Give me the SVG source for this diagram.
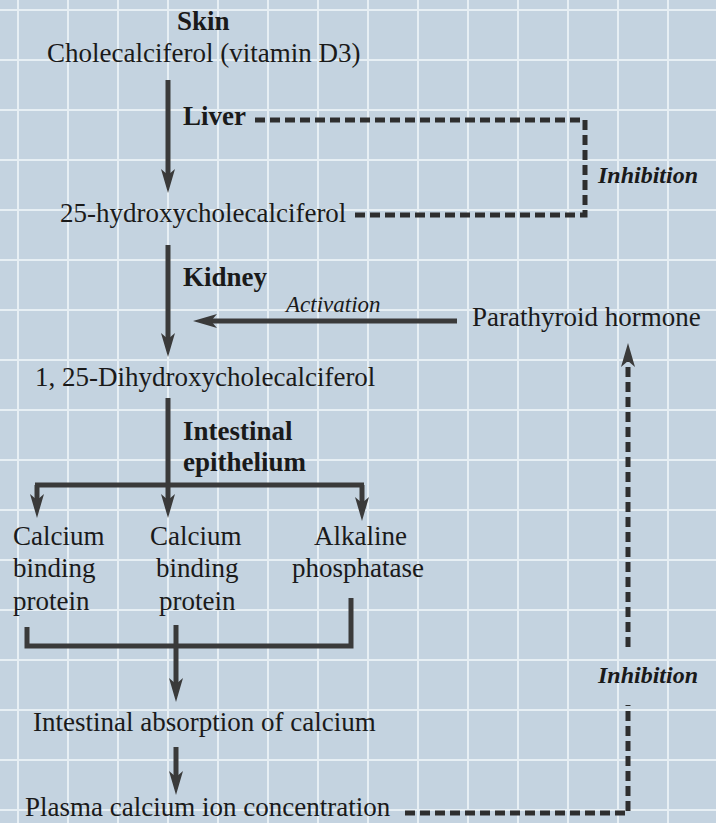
<svg xmlns="http://www.w3.org/2000/svg" width="716" height="823" viewBox="0 0 716 823">
<defs>
<style>
.bg{fill:#c4d3e0}
.grid{stroke:#eef4f8;stroke-width:2;opacity:0.85}
.t{font-family:"Liberation Serif","Times New Roman",serif;font-size:27px;fill:#1a1a1a}
.b{font-weight:bold}
.i{font-style:italic}
.lab{font-family:"Liberation Serif","Times New Roman",serif;font-size:24px;font-weight:bold;font-style:italic;fill:#1a1a1a}
.act{font-family:"Liberation Serif","Times New Roman",serif;font-size:23px;font-style:italic;fill:#1a1a1a}
.solid{fill:none;stroke:#3a3a3a;stroke-width:5}
.dash{fill:none;stroke:#2e2e2e;stroke-width:5;stroke-dasharray:10 5}
</style>
<marker id="ah" viewBox="0 0 24 14" refX="14" refY="7" markerWidth="24" markerHeight="14" markerUnits="userSpaceOnUse" orient="auto">
<path d="M0,0 L24,7 L0,14 L6,7 Z" fill="#3a3a3a"/>
</marker>
</defs>
<rect class="bg" x="0" y="0" width="716" height="823"/>
<g id="grid" class="grid">
<path d="M18,0V823M68,0V823M118,0V823M168,0V823M218,0V823M268,0V823M318,0V823M368,0V823M418,0V823M468,0V823M518,0V823M568,0V823M618,0V823M668,0V823"/>
<path d="M0,10H716M0,60H716M0,110H716M0,160H716M0,210H716M0,260H716M0,310H716M0,360H716M0,410H716M0,460H716M0,510H716M0,560H716M0,610H716M0,660H716M0,710H716M0,760H716M0,810H716"/>
</g>
<g id="connectors">
<line class="solid" x1="168" y1="80" x2="168" y2="183" marker-end="url(#ah)"/>
<line class="solid" x1="168" y1="245" x2="168" y2="347" marker-end="url(#ah)"/>
<line class="solid" x1="457" y1="321" x2="203" y2="321" marker-end="url(#ah)"/>
<path class="solid" d="M168,398V485M35,485H364"/>
<line class="solid" x1="37" y1="485" x2="37" y2="508" marker-end="url(#ah)"/>
<line class="solid" x1="168" y1="485" x2="168" y2="508" marker-end="url(#ah)"/>
<line class="solid" x1="362" y1="485" x2="362" y2="511" marker-end="url(#ah)"/>
<path class="solid" d="M27,627V646H351V598"/>
<line class="solid" x1="176" y1="625" x2="176" y2="692" marker-end="url(#ah)"/>
<line class="solid" x1="176" y1="747" x2="176" y2="785" marker-end="url(#ah)"/>
<path class="dash" d="M255,120H585V215H355"/>
<path class="dash" d="M405,813H628V705"/>
<path class="dash" d="M628,647V353" marker-end="url(#ah)"/>
</g>
<g id="skin"><text class="t b" x="177" y="30">Skin</text></g>
<g id="cholecalciferol"><text class="t" x="47" y="62">Cholecalciferol (vitamin D3)</text></g>
<g id="liver"><text class="t b" x="183" y="125">Liver</text></g>
<g id="inhibition1"><text class="lab" x="598" y="183">Inhibition</text></g>
<g id="hydroxy"><text class="t" x="60" y="222">25-hydroxycholecalciferol</text></g>
<g id="kidney"><text class="t b" x="183" y="286">Kidney</text></g>
<g id="activation"><text class="act" x="286" y="312">Activation</text></g>
<g id="pth"><text class="t" x="472" y="326">Parathyroid hormone</text></g>
<g id="dihydroxy"><text class="t" x="35" y="386">1, 25-Dihydroxycholecalciferol</text></g>
<g id="intestinal-epithelium"><text class="t b" x="183" y="440">Intestinal</text><text class="t b" x="183" y="471">epithelium</text></g>
<g id="cbp1"><text class="t" x="13" y="545">Calcium</text><text class="t" x="13" y="577">binding</text><text class="t" x="13" y="610">protein</text></g>
<g id="cbp2"><text class="t" x="150" y="545">Calcium</text><text class="t" x="156" y="577">binding</text><text class="t" x="159" y="610">protein</text></g>
<g id="alkaline"><text class="t" x="314" y="545">Alkaline</text><text class="t" x="292" y="577">phosphatase</text></g>
<g id="absorption"><text class="t" x="33" y="731">Intestinal absorption of calcium</text></g>
<g id="inhibition2"><text class="lab" x="598" y="683">Inhibition</text></g>
<g id="plasma"><text class="t" x="25" y="816">Plasma calcium ion concentration</text></g>
</svg>
